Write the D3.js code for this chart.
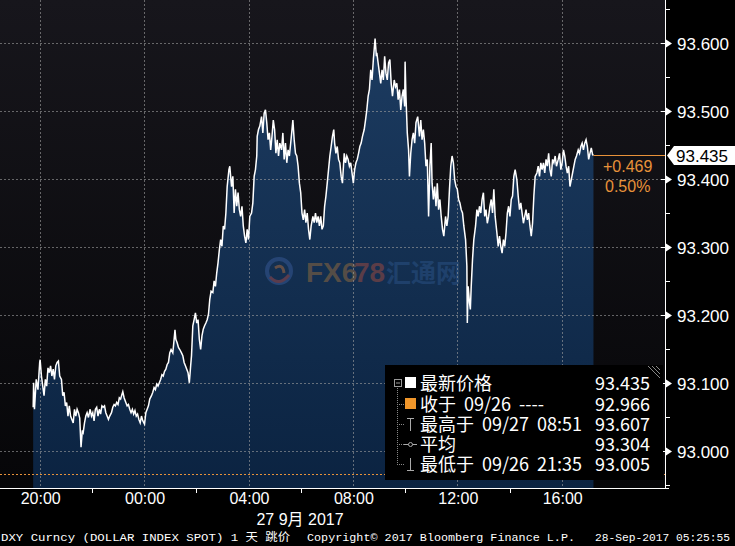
<!DOCTYPE html>
<html><head><meta charset="utf-8">
<script src="https://cdn.jsdelivr.net/npm/d3@7"></script>
<style>html,body{margin:0;padding:0;background:#000;overflow:hidden}</style>
</head><body><svg id="c" width="735" height="546"></svg>
<script>
// minutes after 2017-09-26 20:00
const minutes = [-15,-14,-12,-8,-4,0,1,4,7,10,13,16,19,22,25,28,31,34,37,40,43,46,50,53,56,59,62,65,68,71,74,77,80,83,86,89,92,95,98,100,103,106,109,112,116,119,122,125,128,131,134,137,140,143,146,149,152,155,158,161,165,168,171,174,177,180,183,186,189,191,194,198,201,204,207,210,213,216,219,222,225,228,231,234,237,241,244,247,250,253,257,260,263,266,269,272,275,278,281,284,287,290,293,296,299,302,306,309,311,313,316,319,322,326,329,332,335,338,341,344,347,349,352,355,358,361,364,367,370,373,376,379,382,385,388,391,394,398,401,404,407,410,413,416,419,422,425,428,
431,435,437,441,444,447,450,453,456,459,462,465,468,471,474,477,480,483,487,490,493,496,499,500,503,506,510,513,516,519,522,525,528,531,534,537,540,543,546,549,552,556,559,562,565,568,571,574,577,580,582,585,588,591,594,597,600,603,606,609,612,615,618,621,624,628,631,634,637,640,643,646,649,652,655,658,661,664,667,670,673,676,678,681,684,687,690,693,696,700,703,706,709,712,715,718,721,724,727,730,733,736,739,742,746,749,752,755,758,761,764,767,771,774,775,778,781,784,787,790,793,796,799,802,805,808,811,815,818,821,824,827,830,833,836,839,840,842,845,848,850,853,856,859,862,
865,869,873,876,879,882,885,888,891,894,897,900,902,905,908,911,914,917,920,923,926,929,933,936,939,942,945,948,951,954,957,960,963,966,969,972,975,979,982,983,985,988,990,992,995,998,1002,1005,1008,1011,1014,1017,1020,1023,1026,1029,1032,1035,1038,1041,1044,1047,1051,1054,1057,1060,1063,1066,1069,1072,1075,1078,1081,1084,1087,1090,1093,1097,1100,1103,1106,1109,1112,1115,1118,1121,1124,1127,1130,1133,1136,1139,1143,1146,1149,1152,1155,1158,1161,1164,1167,1170,1173,1176,1179,1182,1185,1188,1192,1195,1198,1201,1204,1207,1210,1213,1216,1219,1222,1225,1228,1231,1234,1238,1241,1244,1247,1250,1253,1256,1259,1262,1265,1268,1271,1273];
const prices = [93.064,93.100,93.061,93.105,93.090,93.130,93.134,93.110,93.095,93.081,93.105,93.095,93.122,93.115,93.125,93.110,93.120,93.105,93.125,93.130,93.132,93.110,93.105,93.081,93.086,93.066,93.071,93.051,93.066,93.051,93.046,93.041,93.061,93.051,93.061,93.056,93.048,93.005,93.030,93.027,93.041,93.051,93.056,93.049,93.061,93.051,93.056,93.044,93.061,93.064,93.051,93.061,93.054,93.066,93.064,93.066,93.056,93.051,93.046,93.051,93.056,93.064,93.068,93.066,93.071,93.068,93.078,93.076,93.083,93.087,93.078,93.071,93.066,93.068,93.061,93.056,93.061,93.054,93.059,93.051,93.054,93.046,93.041,93.051,93.044,93.039,93.056,93.061,93.066,93.076,93.081,93.086,93.093,93.090,93.098,93.095,93.100,93.105,93.112,93.110,93.117,93.120,93.127,93.130,93.144,93.149,93.144,93.164,93.178,93.164,93.159,93.152,93.149,93.144,93.140,93.130,93.125,93.120,93.115,93.100,93.125,93.140,93.184,93.193,93.203,93.188,93.193,93.164,93.149,93.169,93.179,93.184,93.188,93.193,93.201,93.223,93.235,93.233,93.250,93.242,93.262,93.277,93.296,93.311,93.301,93.331,93.326,93.350,
93.389,93.414,93.419,93.389,93.404,93.350,93.385,93.360,93.380,93.355,93.345,93.360,93.331,93.316,93.306,93.326,93.311,93.345,93.350,93.365,93.404,93.414,93.434,93.463,93.473,93.478,93.492,93.468,93.497,93.502,93.483,93.458,93.468,93.443,93.463,93.487,93.473,93.438,93.458,93.434,93.453,93.443,93.468,93.429,93.453,93.424,93.443,93.434,93.453,93.473,93.487,93.458,93.438,93.434,93.419,93.394,93.380,93.350,93.340,93.355,93.336,93.350,93.326,93.311,93.331,93.345,93.336,93.350,93.336,93.345,93.331,93.345,93.326,93.331,93.360,93.375,93.394,93.414,93.434,93.448,93.463,93.473,93.453,93.438,93.448,93.429,93.424,93.404,93.394,93.438,93.424,93.434,93.429,93.419,93.424,93.409,93.394,93.414,93.424,93.429,93.438,93.448,93.453,93.463,93.473,93.487,93.502,93.522,93.532,93.561,93.546,93.576,93.607,93.581,93.586,93.571,93.556,93.541,93.561,93.546,93.581,93.556,93.546,93.571,93.576,93.541,93.522,93.546,93.536,93.541,93.517,93.532,93.502,93.522,93.532,93.507,93.573,93.522,93.468,93.443,93.404,93.438,93.458,93.468,93.453,
93.483,93.492,93.463,93.487,93.458,93.473,93.453,93.419,93.429,93.345,93.419,93.453,93.394,93.370,93.389,93.360,93.394,93.355,93.370,93.345,93.326,93.316,93.345,93.331,93.345,93.385,93.419,93.434,93.424,93.399,93.389,93.385,93.370,93.365,93.355,93.350,93.331,93.311,93.272,93.188,93.242,93.218,93.208,93.242,93.282,93.311,93.331,93.355,93.345,93.360,93.350,93.370,93.380,93.345,93.355,93.335,93.345,93.360,93.370,93.350,93.385,93.345,93.321,93.301,93.316,93.301,93.291,93.311,93.301,93.321,93.350,93.360,93.345,93.370,93.375,93.404,93.414,93.399,93.375,93.355,93.365,93.350,93.335,93.345,93.355,93.340,93.350,93.331,93.316,93.335,93.375,93.404,93.409,93.419,93.404,93.424,93.414,93.424,93.409,93.429,93.419,93.438,93.414,93.404,93.429,93.424,93.434,93.419,93.429,93.438,93.414,93.424,93.443,93.434,93.419,93.409,93.419,93.389,93.399,93.409,93.419,93.429,93.434,93.443,93.438,93.448,93.453,93.443,93.453,93.458,93.448,93.429,93.438,93.446,93.436,93.435];

const yTickValues = [93.0, 93.1, 93.2, 93.3, 93.4, 93.5, 93.6];
const yMinorValues = [92.95, 93.05, 93.15, 93.25, 93.35, 93.45, 93.55, 93.65];
const xTickTimes = ["2017-09-26 20:00","2017-09-27 00:00","2017-09-27 04:00","2017-09-27 08:00","2017-09-27 12:00","2017-09-27 16:00"];
const xTickLabels = ["20:00","00:00","04:00","08:00","12:00","16:00"];
const xMinorTimes = ["2017-09-26 22:00","2017-09-27 02:00","2017-09-27 06:00","2017-09-27 10:00","2017-09-27 14:00"];
const dateLabel = "27 9月 2017";
const lastPrice = 93.435;
const prevClose = 92.966;
const changeText = "+0.469";
const changePct = "0.50%";
const legendLabels = ["最新价格","收于 09/26 ----","最高于 09/27 08:51","平均","最低于 09/26 21:35"];
const legendValues = ["93.435","92.966","93.607","93.304","93.005"];
const footerParts = ["DXY Curncy (DOLLAR INDEX SPOT) 1 天  跳价","Copyright© 2017 Bloomberg Finance L.P.","28-Sep-2017 05:25:55"];

const parse = d3.timeParse("%Y-%m-%d %H:%M");
const t0 = parse("2017-09-26 20:00");
const data = minutes.map((m, i) => ({t: d3.timeMinute.offset(t0, m), v: prices[i]}));

const W = 735, H = 546, PR = 665, PB = 488;
const x = d3.scaleTime().domain([parse("2017-09-26 20:00"), parse("2017-09-27 16:00")]).range([39.7, 561.7]);
const y = d3.scaleLinear().domain([93.0, 93.6]).range([450.7, 43.3]);

const svg = d3.select("#c");
const defs = svg.append("defs");
const bg = defs.append("linearGradient").attr("id","bg").attr("x1",0).attr("y1",0).attr("x2",0).attr("y2",1);
bg.append("stop").attr("offset","0%").attr("stop-color","#17161c");
bg.append("stop").attr("offset","100%").attr("stop-color","#060608");
const ag = defs.append("linearGradient").attr("id","ag").attr("gradientUnits","userSpaceOnUse").attr("x1",0).attr("y1",40).attr("x2",0).attr("y2",PB);
ag.append("stop").attr("offset","0%").attr("stop-color","#1c3b60");
ag.append("stop").attr("offset","100%").attr("stop-color","#0b2341");

svg.append("rect").attr("width",W).attr("height",H).attr("fill","#000");
svg.append("rect").attr("x",0).attr("y",0).attr("width",PR).attr("height",PB).attr("fill","url(#bg)");

// area
const area = d3.area().x(d => x(d.t)).y0(PB).y1(d => y(d.v)).curve(d3.curveLinear);
svg.append("path").datum(data).attr("d", area).attr("fill","url(#ag)");

// watermark
const wm = svg.append("g").attr("opacity",0.42);
const lx = 279, ly = 271;
wm.append("circle").attr("cx",lx).attr("cy",ly).attr("r",12).attr("fill","none").attr("stroke","#3f63a6").attr("stroke-width",4);
wm.append("path").attr("d",`M${lx-9},${ly+6} Q${lx},${ly+16} ${lx+10},${ly+4}`).attr("fill","none").attr("stroke","#c0504a").attr("stroke-width",3);
wm.append("path").attr("d",`M${lx-4},${ly-3} Q${lx+4},${ly-8} ${lx+5},${ly+2}`).attr("fill","none").attr("stroke","#d07a3a").attr("stroke-width",3);
wm.append("text").attr("x",306).attr("y",282).attr("font-family","Liberation Sans, Arial, sans-serif").attr("font-weight","bold").attr("font-size",28)
  .attr("fill","#b0783a").text("FX6");
wm.append("text").attr("x",354).attr("y",282).attr("font-family","Liberation Sans, Arial, sans-serif").attr("font-weight","bold").attr("font-size",28)
  .attr("fill","#c0523c").text("78");
wm.append("text").attr("x",386).attr("y",282).attr("font-family","Noto Sans CJK SC").attr("font-weight","bold").attr("font-size",25)
  .attr("fill","#3d6fb0").attr("opacity",0.7).text("汇通网");

// gridlines
svg.append("g").selectAll("line").data(yTickValues).join("line")
  .attr("x1",0).attr("x2",PR).attr("y1",d=>Math.round(y(d))+0.5).attr("y2",d=>Math.round(y(d))+0.5)
  .attr("stroke","#a0a0a0").attr("stroke-opacity",0.6).attr("stroke-dasharray","2,2");
svg.append("g").selectAll("line").data(xTickTimes).join("line")
  .attr("x1",d=>Math.round(x(parse(d)))+0.5).attr("x2",d=>Math.round(x(parse(d)))+0.5).attr("y1",0).attr("y2",PB)
  .attr("stroke","#a0a0a0").attr("stroke-opacity",0.6).attr("stroke-dasharray","2,2");

// prev close line
svg.append("line").attr("x1",0).attr("x2",PR).attr("y1",Math.round(y(prevClose))+0.5).attr("y2",Math.round(y(prevClose))+0.5)
  .attr("stroke","#e8923a").attr("stroke-dasharray","2,2");

// price line
const line = d3.line().x(d => x(d.t)).y(d => y(d.v));
svg.append("path").datum(data).attr("d", line).attr("fill","none").attr("stroke","#fff").attr("stroke-width",1.5).attr("stroke-linejoin","miter");

// last price line & change
const last = data[data.length-1];
svg.append("line").attr("x1",x(last.t)).attr("x2",PR).attr("y1",Math.round(y(lastPrice))+0.5).attr("y2",Math.round(y(lastPrice))+0.5)
  .attr("stroke","#e8923a").attr("stroke-width",1);
svg.append("text").attr("x",603).attr("y",172).attr("font-family","Liberation Sans, Arial, sans-serif").attr("font-size",16).attr("fill","#e8923a").text(changeText);
svg.append("text").attr("x",605).attr("y",192).attr("font-family","Liberation Sans, Arial, sans-serif").attr("font-size",16).attr("fill","#e8923a").text(changePct);

// right axis
svg.append("line").attr("x1",PR+0.5).attr("x2",PR+0.5).attr("y1",0).attr("y2",PB).attr("stroke","#fff");
const ya = svg.append("g");
yTickValues.forEach(v => {
  const yy = Math.round(y(v)) + 0.5;
  ya.append("line").attr("x1",PR-4).attr("x2",PR).attr("y1",yy).attr("y2",yy).attr("stroke","#fff");
  ya.append("path").attr("d",`M${PR+1},${yy-4} L${PR+7},${yy} L${PR+1},${yy+4} Z`).attr("fill","#fff");
  ya.append("text").attr("x",677).attr("y",yy+6).attr("font-family","Liberation Sans, Arial, sans-serif").attr("font-size",17).attr("fill","#fff").text(d3.format(".3f")(v));
});
yMinorValues.forEach(v => {
  const yy = Math.round(y(v)) + 0.5;
  ya.append("line").attr("x1",PR).attr("x2",PR+5).attr("y1",yy).attr("y2",yy).attr("stroke","#fff");
});
// current price flag
const cy = Math.round(y(lastPrice));
svg.append("path").attr("d",`M${PR+2},${cy+0.5} L${PR+9},${cy-9} L${W},${cy-9} L${W},${cy+10} L${PR+9},${cy+10} Z`).attr("fill","#fff");
svg.append("text").attr("x",676).attr("y",cy+7).attr("font-family","Liberation Sans, Arial, sans-serif").attr("font-size",17).attr("fill","#000").text(d3.format(".3f")(lastPrice));

// x axis
svg.append("line").attr("x1",0).attr("x2",PR+4).attr("y1",PB+0.5).attr("y2",PB+0.5).attr("stroke","#fff");
const xa = svg.append("g");
xMinorTimes.forEach(s => {
  const xx = Math.round(x(parse(s))) + 0.5;
  xa.append("line").attr("x1",xx).attr("x2",xx).attr("y1",PB).attr("y2",PB+5).attr("stroke","#fff");
});
xTickTimes.forEach((s,i) => {
  const xx = x(parse(s));
  xa.append("text").attr("x",xx+1).attr("y",504).attr("text-anchor","middle").attr("font-family","Liberation Sans, Arial, sans-serif").attr("font-size",16).attr("fill","#fff").text(xTickLabels[i]);
});
svg.append("text").attr("x",300).attr("y",525).attr("text-anchor","middle").attr("font-family","Liberation Sans, 'Noto Sans CJK SC', sans-serif").attr("font-size",16).attr("fill","#fff").text(dateLabel);

// footer
const ff = "'Liberation Mono', 'Noto Sans CJK SC', monospace";
svg.append("text").attr("x",1).attr("y",541).attr("font-family",ff).attr("font-size",11.5).attr("fill","#fff").attr("textLength",289).attr("lengthAdjust","spacingAndGlyphs").text(footerParts[0]);
svg.append("text").attr("x",307).attr("y",541).attr("font-family",ff).attr("font-size",11.5).attr("fill","#fff").attr("textLength",268).attr("lengthAdjust","spacingAndGlyphs").text(footerParts[1]);
svg.append("text").attr("x",595).attr("y",541).attr("font-family",ff).attr("font-size",11.3).attr("fill","#fff").attr("textLength",135).attr("lengthAdjust","spacingAndGlyphs").text(footerParts[2]);

// legend
const lg = svg.append("g");
lg.append("rect").attr("x",385).attr("y",365).attr("width",278).attr("height",115).attr("fill","#000");
// resize grip
[0,4,8].forEach(o => lg.append("line").attr("x1",648+o).attr("y1",366).attr("x2",660).attr("y2",378-o).attr("stroke","#888"));
const rowY = [383, 404, 424, 444, 464];
lg.append("line").attr("x1",397.5).attr("x2",397.5).attr("y1",388).attr("y2",rowY[4]).attr("stroke","#888").attr("stroke-dasharray","1,1");
rowY.slice(1).forEach(r => lg.append("line").attr("x1",397).attr("x2",404).attr("y1",r+0.5).attr("y2",r+0.5).attr("stroke","#888").attr("stroke-dasharray","1,1"));
lg.append("rect").attr("x",394.5).attr("y",379.5).attr("width",7).attr("height",7).attr("fill","none").attr("stroke","#999");
lg.append("line").attr("x1",396).attr("x2",400).attr("y1",383).attr("y2",383).attr("stroke","#999");
lg.append("rect").attr("x",405).attr("y",rowY[0]-6).attr("width",11).attr("height",11).attr("fill","#fff");
lg.append("rect").attr("x",405).attr("y",rowY[1]-6).attr("width",11).attr("height",11).attr("fill","#f0962a");
// high icon
lg.append("line").attr("x1",410.5).attr("x2",410.5).attr("y1",rowY[2]-6).attr("y2",rowY[2]+7).attr("stroke","#aaa");
lg.append("line").attr("x1",407).attr("x2",414).attr("y1",rowY[2]-5.5).attr("y2",rowY[2]-5.5).attr("stroke","#aaa");
// avg icon
lg.append("line").attr("x1",404).attr("x2",417).attr("y1",rowY[3]+0.5).attr("y2",rowY[3]+0.5).attr("stroke","#aaa");
lg.append("circle").attr("cx",410.5).attr("cy",rowY[3]+0.5).attr("r",2).attr("fill","#000").attr("stroke","#aaa");
// low icon
lg.append("line").attr("x1",410.5).attr("x2",410.5).attr("y1",rowY[4]-6).attr("y2",rowY[4]+7).attr("stroke","#aaa");
lg.append("line").attr("x1",407).attr("x2",414).attr("y1",rowY[4]+6.5).attr("y2",rowY[4]+6.5).attr("stroke","#aaa");
legendLabels.forEach((l,i) => {
  lg.append("text").attr("x",420).attr("y",rowY[i]+7).attr("font-family","'Noto Sans CJK SC', sans-serif").attr("font-size",18).attr("word-spacing",4).attr("fill","#fff").text(l);
  lg.append("text").attr("x",650).attr("y",rowY[i]+7).attr("text-anchor","end").attr("font-family","'Noto Sans CJK SC', sans-serif").attr("font-size",18).attr("fill","#fff").text(legendValues[i]);
});
</script>
</body></html>
